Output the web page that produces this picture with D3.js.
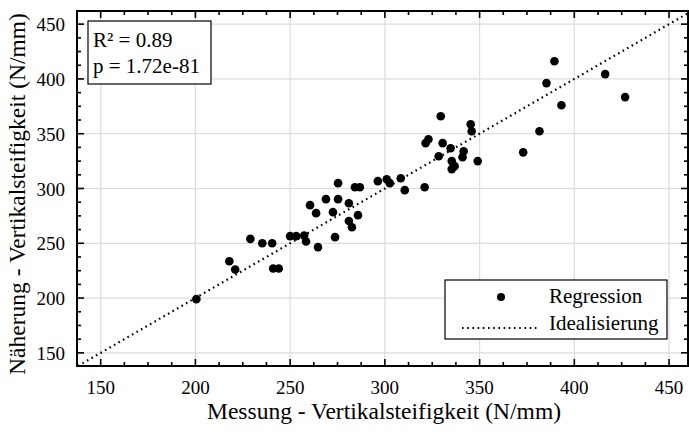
<!DOCTYPE html>
<html><head><meta charset="utf-8">
<script src="https://cdn.jsdelivr.net/npm/d3@7"></script>
<style>body{margin:0;background:#fff}</style>
</head><body>
<svg id="c" width="689" height="432"></svg>
<script>
const measured = [200.5,217.9,221,229,235.3,240.5,241,244,250,253.2,257.4,258.4,264.7,273.7,260.5,263.7,268.9,275.3,275.3,272.6,281,284.2,286.8,281,282.6,285.8,296.3,301,302.6,308.4,310.5,321,321.5,323,329.5,345.3,345.8,330.5,334.7,341.6,341,328.4,335.3,336.8,335.3,349,373,389.5,385.3,393.2,381.6,416.3,426.8];
const approx   = [199,233.6,226,254,250,250,227,227,256.5,256.5,257,251.6,246.5,255.6,284.8,277.5,290.3,290.3,304.9,278.4,286.6,301.2,301.2,270.3,264.7,275.7,306.7,308.5,304.9,309.4,298.5,301.2,341.4,345,366,358.7,352.3,341.4,336.8,334,328.6,329.5,325,320.4,317.7,325,333,416.2,396.2,376,352.3,404.4,383.4];
const xDomain = [137.5, 460];
const yDomain = [138, 462];
const majorTicks = [150,200,250,300,350,400,450];
const statsLines = ["R² = 0.89", "p = 1.72e-81"];
const legendLabels = ["Regression", "Idealisierung"];
const xTitle = "Messung - Vertikalsteifigkeit (N/mm)";
const yTitle = "Näherung - Vertikalsteifigkeit (N/mm)";
const FONT = '"Liberation Serif"';

const L=77,R=688,T=11,B=366;
const svg=d3.select("#c");
const x=d3.scaleLinear().domain(xDomain).range([L,R]);
const y=d3.scaleLinear().domain(yDomain).range([B,T]);
const minor=d3.range(137.5,461,12.5).filter(v=>v>=xDomain[0]&&v<=xDomain[1]&&majorTicks.indexOf(v)<0);
const minorY=d3.range(137.5,462,12.5).filter(v=>v>=yDomain[0]&&v<=yDomain[1]&&majorTicks.indexOf(v)<0);

const g=svg.append("g");
g.selectAll("line.gx").data(majorTicks).join("line").attr("x1",d=>x(d)).attr("x2",d=>x(d)).attr("y1",T).attr("y2",B).attr("stroke","#dcdcdc").attr("stroke-width",1.2);
g.selectAll("line.gy").data(majorTicks).join("line").attr("y1",d=>y(d)).attr("y2",d=>y(d)).attr("x1",L).attr("x2",R).attr("stroke","#dcdcdc").attr("stroke-width",1.2);

svg.append("line").attr("x1",x(Math.max(xDomain[0],yDomain[0]))).attr("y1",y(Math.max(xDomain[0],yDomain[0])))
  .attr("x2",x(xDomain[1])).attr("y2",y(xDomain[1])).attr("stroke","#000").attr("stroke-width",2.2).attr("stroke-dasharray","1.6,3.6");

svg.selectAll("circle.p").data(measured.map((m,i)=>[m,approx[i]])).join("circle")
  .attr("cx",d=>x(d[0])).attr("cy",d=>y(d[1])).attr("r",4.3).attr("fill","#000");

const ax=svg.append("g");
function ticks(vals,len,which){
  vals.forEach(v=>{
    if(which==="x"){
      ax.append("line").attr("x1",x(v)).attr("x2",x(v)).attr("y1",B).attr("y2",B-len).attr("stroke","#000").attr("stroke-width",1.6);
      ax.append("line").attr("x1",x(v)).attr("x2",x(v)).attr("y1",T).attr("y2",T+len).attr("stroke","#000").attr("stroke-width",1.6);
    } else {
      ax.append("line").attr("y1",y(v)).attr("y2",y(v)).attr("x1",L).attr("x2",L+len).attr("stroke","#000").attr("stroke-width",1.6);
      ax.append("line").attr("y1",y(v)).attr("y2",y(v)).attr("x1",R).attr("x2",R-len).attr("stroke","#000").attr("stroke-width",1.6);
    }
  });
}
ticks(majorTicks,7,"x");ticks(minor,4,"x");
ticks(majorTicks,7,"y");ticks(minorY,4,"y");
ax.append("rect").attr("x",L).attr("y",T).attr("width",R-L).attr("height",B-T).attr("fill","none").attr("stroke","#000").attr("stroke-width",2);

svg.selectAll("text.xt").data(majorTicks).join("text").style("font-family",FONT).attr("x",d=>x(d)).attr("y",B+28).attr("text-anchor","middle").attr("font-size",19).text(d=>d);
svg.selectAll("text.yt").data(majorTicks).join("text").style("font-family",FONT).attr("x",65).attr("y",d=>y(d)+7).attr("text-anchor","end").attr("font-size",19).text(d=>d);

svg.append("text").style("font-family",FONT).attr("x",384).attr("y",419).attr("text-anchor","middle").attr("font-size",23.5).text(xTitle);
svg.append("text").style("font-family",FONT).attr("transform",`translate(25,194) rotate(-90)`).attr("text-anchor","middle").attr("font-size",23.5).text(yTitle);

svg.append("rect").attr("x",88).attr("y",21).attr("width",123).attr("height",63).attr("fill","#fff").attr("stroke","#000").attr("stroke-width",1.2);
svg.selectAll("text.st").data(statsLines).join("text").style("font-family",FONT).attr("x",93).attr("y",(d,i)=>47+i*25.5).attr("font-size",21).text(d=>d);

svg.append("rect").attr("x",445).attr("y",280).attr("width",222).attr("height",59).attr("fill","#fff").attr("stroke","#000").attr("stroke-width",1.2);
svg.append("circle").attr("cx",501).attr("cy",297).attr("r",4).attr("fill","#000");
svg.append("line").attr("x1",462).attr("x2",538).attr("y1",328).attr("y2",328).attr("stroke","#000").attr("stroke-width",2).attr("stroke-dasharray","1.6,3.6");
svg.selectAll("text.lg").data(legendLabels).join("text").style("font-family",FONT).attr("x",549).attr("y",(d,i)=>303+i*27).attr("font-size",21).text(d=>d);
</script>
</body></html>
